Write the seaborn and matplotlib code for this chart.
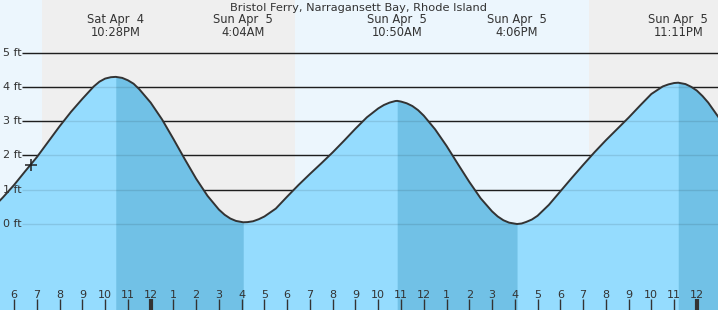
import matplotlib
matplotlib.use("Agg")
import matplotlib.pyplot as plt
import seaborn as sns
import pandas as pd

# ---- data (hours relative to midnight Apr 5; heights in ft) ----
times = [-7.0, -6.5, -6.0, -5.5, -5.0, -4.5, -4.0, -3.5, -3.0, -2.5, -2.25, -2.0, -1.75, -1.533,
         -1.25, -1.0, -0.75, -0.5, 0.0, 0.5, 1.0, 1.5, 2.0, 2.5, 3.0, 3.25, 3.5, 3.75, 4.067,
         4.25, 4.5, 4.75, 5.0, 5.5, 6.0, 6.5, 7.0, 7.5, 8.0, 8.5, 9.0, 9.5, 10.0, 10.25, 10.5, 10.75, 10.833,
         11.0, 11.25, 11.5, 11.75, 12.0, 12.5, 13.0, 13.5, 14.0, 14.5, 15.0, 15.25, 15.5, 15.75, 16.1,
         16.3, 16.5, 16.75, 17.0, 17.5, 18.0, 18.5, 19.0, 19.5, 20.0, 20.5, 21.0, 21.5, 22.0, 22.5,
         22.75, 23.0, 23.183,
         23.5, 23.75, 24.0, 24.25, 24.5, 25.0]
heights = [0.43, 0.77, 1.14, 1.55, 1.95, 2.40, 2.85, 3.27, 3.65, 4.01, 4.15, 4.24, 4.28, 4.29,
           4.26, 4.19, 4.09, 3.93, 3.54, 3.05, 2.48, 1.89, 1.32, 0.82, 0.42, 0.27, 0.16, 0.09, 0.05,
           0.055, 0.08, 0.14, 0.22, 0.45, 0.80, 1.14, 1.46, 1.77, 2.09, 2.43, 2.78, 3.11, 3.37, 3.47, 3.54, 3.585, 3.59,
           3.57, 3.52, 3.44, 3.32, 3.16, 2.76, 2.28, 1.75, 1.23, 0.75, 0.37, 0.22, 0.11, 0.04, 0.00,
           0.015, 0.06, 0.13, 0.24, 0.56, 0.95, 1.34, 1.72, 2.09, 2.44, 2.77, 3.10, 3.45, 3.79, 4.01,
           4.07, 4.11, 4.12,
           4.08, 4.00, 3.89, 3.73, 3.54, 3.07]

ext_times = [-1.533, 4.067, 10.833, 16.1, 23.183]
ext_types = ["high", "low", "high", "low", "high"]
ext_days = ["Sat Apr  4", "Sun Apr  5", "Sun Apr  5", "Sun Apr  5", "Sun Apr  5"]
ext_clock = ["10:28PM", "4:04AM", "10:50AM", "4:06PM", "11:11PM"]

night_spans = [(-4.78, 6.34), (19.26, 26.0)]
ft_levels = [0, 1, 2, 3, 4, 5]
hour_ticks = list(range(-6, 25))
now_time, now_height = -5.27, 1.72

title = "Bristol Ferry, Narragansett Bay, Rhode Island"

# ---- style ----
sns.set_style("white")
plt.rcParams["font.family"] = ["DejaVu Sans"]

DAY = "#ecf6fd"
NIGHT = "#efefef"
FILL_RISE = "#95dcfe"
FILL_FALL = "#71c1e6"
TXT = "#333333"

x_min, x_max = -6.62, 24.93
y_min, y_max = -2.507, 6.531

fig = plt.figure(figsize=(7.18, 3.10), dpi=100)
ax = fig.add_axes([0, 0, 1, 1])
ax.set_xlim(x_min, x_max)
ax.set_ylim(y_min, y_max)
for s in ax.spines.values():
    s.set_visible(False)
ax.set_facecolor(DAY)
ax.set_axisbelow(False)

# night shading
for a, b in night_spans:
    ax.axvspan(a, b, color=NIGHT, zorder=0, lw=0)

# grid lines (behind fill)
ax.hlines(ft_levels, 22 / 718, 1, transform=ax.get_yaxis_transform(),
          colors="#222222", lw=1.0, zorder=1)

df = pd.DataFrame({"t": times, "h": heights})

# fill under curve
ax.fill_between(df["t"], df["h"], y_min, color=FILL_RISE, lw=0, zorder=2)
# falling tide (high -> next low) darker
for i, (tt, kind) in enumerate(zip(ext_times, ext_types)):
    if kind == "high":
        end = ext_times[i + 1] if i + 1 < len(ext_times) else max(times)
        m = (df["t"] >= tt) & (df["t"] <= end)
        ax.fill_between(df["t"][m], df["h"][m], y_min, color=FILL_FALL, lw=0, zorder=2)

# grid lines faintly over fill
ax.hlines(ft_levels, 22 / 718, 1, transform=ax.get_yaxis_transform(),
          colors="#000000", lw=1.0, alpha=0.1, zorder=3)

# curve
sns.lineplot(data=df, x="t", y="h", color="#333333", lw=1.4, ax=ax, zorder=4,
             sort=True, estimator=None)
for ln in ax.lines:
    ln.set_solid_joinstyle("round")

# current marker
ax.plot([now_time], [now_height], marker="+", ms=9, mew=1.1, color="#222222", zorder=5)

# y labels
for lv in ft_levels:
    ax.text(3 / 718, lv, f"{lv} ft", transform=ax.get_yaxis_transform(),
            ha="left", va="center", fontsize=8, color=TXT, zorder=6)

# hour ticks
ax.set_xticks([h for h in hour_ticks if h % 24 == 0])
ax.set_xticks([h for h in hour_ticks if h % 24 != 0], minor=True)
ax.tick_params(axis="x", which="major", direction="in", length=8, width=3,
               color=TXT, labelbottom=False, bottom=True)
ax.tick_params(axis="x", which="minor", direction="in", length=8, width=1,
               color=TXT, labelbottom=False, bottom=True)
ax.set_yticks([])
ax.set_xlabel("")
ax.set_ylabel("")
for h in hour_ticks:
    lab = str(((h - 1) % 12) + 1)
    ax.text(h, 15 / 310, lab, transform=ax.get_xaxis_transform(),
            ha="center", va="center", fontsize=8, color=TXT, zorder=6)

# extreme labels
for tt, d, c in zip(ext_times, ext_days, ext_clock):
    ax.text(tt, 1 - 20 / 310, d, transform=ax.get_xaxis_transform(),
            ha="center", va="center", fontsize=8.3, color=TXT, zorder=6)
    ax.text(tt, 1 - 32 / 310, c, transform=ax.get_xaxis_transform(),
            ha="center", va="center", fontsize=8.3, color=TXT, zorder=6)

ax.text(0.5, 1 - 8 / 310, title, transform=ax.transAxes, ha="center", va="center",
        fontsize=8.2, color=TXT, zorder=6)

fig.savefig("out.png", dpi=100)
